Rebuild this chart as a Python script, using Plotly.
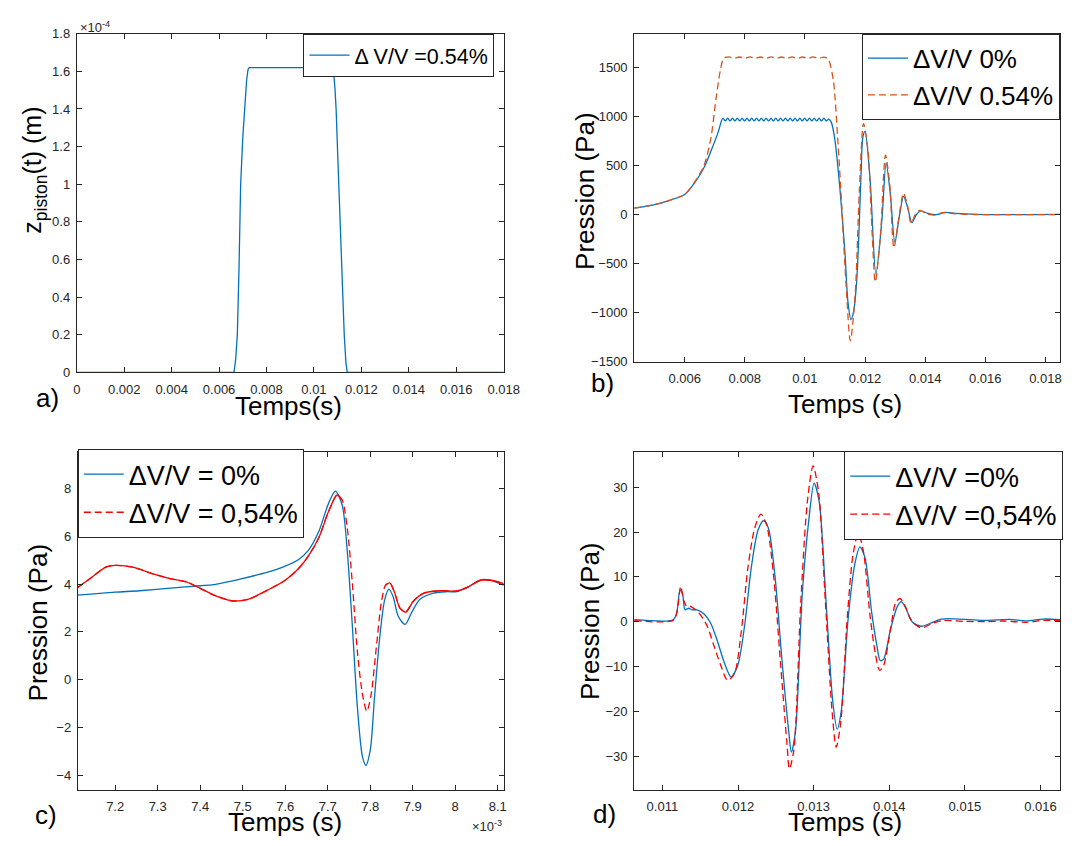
import plotly.graph_objects as go

# page body keeps an 8px margin: figure is sized and placed to compensate
OFF = 8
W, H = 1075, 838

# ---------------- data ----------------
# a) piston displacement (units of 1e-4 m)
t_a = [0.0, 0.00663, 0.00670, 0.00677, 0.00684, 0.00691, 0.00700, 0.00708, 0.00716, 0.00722, 0.00727,
       0.01077, 0.01084, 0.01089, 0.010935, 0.01099, 0.011049, 0.011163, 0.011277, 0.01135, 0.011405, 0.018]
z_a = [0.0, 0.0, 0.07, 0.2, 0.55, 1.0, 1.25, 1.42, 1.55, 1.61, 1.62,
       1.62, 1.58, 1.5, 1.4, 1.2, 1.0, 0.55, 0.2, 0.05, 0.0, 0.0]

# b) pressure, dV/V 0%
t_b0 = [0.00432, 0.0050, 0.0055, 0.0060, 0.0063, 0.00664, 0.00687, 0.0071, 0.00727,
        0.00735, 0.00743, 0.00751, 0.00759, 0.00767, 0.00775, 0.00783, 0.00791, 0.00799, 0.00807,
        0.00815, 0.00823, 0.00831, 0.00839, 0.00847, 0.00855, 0.00863, 0.00871, 0.00879, 0.00887,
        0.00895, 0.00903, 0.00911, 0.00919, 0.00927, 0.00935, 0.00943, 0.00951, 0.00959, 0.00967,
        0.00975, 0.00983, 0.00991, 0.00999, 0.01007, 0.01015, 0.01023, 0.01031, 0.01039, 0.01047,
        0.01055, 0.01063, 0.01071, 0.01079,
        0.01088, 0.01099, 0.01116, 0.01133, 0.01143, 0.01153, 0.01162, 0.01172, 0.01180, 0.01187,
        0.01193, 0.01200, 0.01217, 0.01236, 0.01256, 0.01270, 0.01284, 0.01299, 0.01314, 0.01328,
        0.01341, 0.01356, 0.01370, 0.01384, 0.01409, 0.01437, 0.01466, 0.01500, 0.01568, 0.01849]
p_b0 = [67, 103, 147, 207, 313, 480, 647, 830, 985,
        958, 985, 958, 985, 958, 985, 958, 985, 958, 985,
        958, 985, 958, 985, 958, 985, 958, 985, 958, 985,
        958, 985, 958, 985, 958, 985, 958, 985, 958, 985,
        958, 985, 958, 985, 958, 985, 958, 985, 958, 985,
        958, 985, 958, 975,
        940, 780, 280, -387, -887, -1070, -987, -687, -153, 447,
        797, 847, 347, -603, -53, 530, 213, -280, -20, 187,
        80, -80, -3, 40, 13, 0, 23, 13, 3, 3]

# b) pressure, dV/V 0.54%
t_b1 = [0.00432, 0.0050, 0.0055, 0.0060, 0.0063, 0.00664, 0.00687, 0.00704, 0.00719, 0.00730,
        0.00747, 0.00765, 0.00782, 0.00800, 0.00817, 0.00835, 0.00852, 0.00870, 0.00887, 0.00905,
        0.00922, 0.00940, 0.00957, 0.00975, 0.00992, 0.01010, 0.01027, 0.01045, 0.01062, 0.01077,
        0.01094, 0.01109, 0.01122, 0.01137, 0.01151, 0.01167, 0.01181, 0.01195, 0.01210, 0.01224,
        0.01234, 0.01251, 0.01268, 0.01282, 0.01296, 0.01313, 0.01328, 0.01341, 0.01353, 0.01367,
        0.01382, 0.01405, 0.01430, 0.01460, 0.01500, 0.01570, 0.01849]
p_b1 = [67, 103, 147, 207, 320, 500, 780, 1180, 1480, 1597,
        1612, 1596, 1610, 1595, 1611, 1596, 1610, 1595, 1611, 1596,
        1610, 1595, 1611, 1596, 1610, 1595, 1611, 1596, 1608, 1590,
        1380, 780, 113, -720, -1287, -820, 247, 930, 647, -220,
        -687, -220, 607, 313, -337, -20, 220, 97, -87, 0,
        45, 10, -5, 20, 10, 2, 2]

# c) zoom around 7.7e-3 s (time in 1e-3 s)
t_c0 = [7.112, 7.200, 7.257, 7.337, 7.400, 7.432, 7.496, 7.559, 7.600, 7.631, 7.655, 7.679, 7.702,
        7.718, 7.734, 7.746, 7.758, 7.770, 7.782, 7.790, 7.800, 7.810, 7.822, 7.834, 7.844, 7.854,
        7.866, 7.882, 7.897, 7.917, 7.949, 7.980, 8.004, 8.028, 8.060, 8.083, 8.114]
p_c0 = [3.54, 3.66, 3.72, 3.84, 3.93, 3.98, 4.22, 4.50, 4.75, 5.02, 5.42, 6.20, 7.38,
        7.89, 7.31, 5.39, 2.24, -1.19, -3.25, -3.59, -2.97, -0.78, 1.69, 3.34, 3.79, 3.47,
        2.65, 2.31, 2.79, 3.36, 3.62, 3.68, 3.68, 3.86, 4.18, 4.16, 3.95]
t_c1 = [7.112, 7.146, 7.178, 7.200, 7.241, 7.289, 7.329, 7.369, 7.400, 7.432, 7.464, 7.480, 7.512,
        7.559, 7.600, 7.631, 7.655, 7.679, 7.702, 7.722, 7.734, 7.746, 7.758, 7.770, 7.782, 7.792,
        7.802, 7.814, 7.826, 7.836, 7.846, 7.858, 7.870, 7.884, 7.901, 7.925, 7.965, 8.004, 8.028,
        8.060, 8.083, 8.114]
p_c1 = [3.86, 4.30, 4.71, 4.78, 4.71, 4.43, 4.23, 4.08, 3.82, 3.54, 3.34, 3.29, 3.36,
        3.75, 4.16, 4.64, 5.19, 5.94, 7.04, 7.73, 7.52, 6.35, 4.02, 1.14, -0.64, -1.33,
        -0.64, 1.28, 3.20, 3.95, 4.05, 3.61, 2.99, 2.83, 3.27, 3.61, 3.72, 3.71, 3.86,
        4.16, 4.16, 4.02]

# d) zoom on the oscillations
t_d0 = [0.010627, 0.011144, 0.011189, 0.011233, 0.011265, 0.011300, 0.011346, 0.011390, 0.011458,
        0.011548, 0.011637, 0.011727, 0.011817, 0.011907, 0.011996, 0.012086, 0.012176, 0.012266,
        0.012338, 0.012401, 0.012490, 0.012580, 0.012670, 0.012706, 0.012760, 0.012850, 0.012939,
        0.013006, 0.013074, 0.013163, 0.013253, 0.013311, 0.013365, 0.013455, 0.013545, 0.013612,
        0.013679, 0.013769, 0.013837, 0.013881, 0.013926, 0.014016, 0.014106, 0.014160, 0.014218,
        0.014308, 0.014420, 0.014555, 0.014690, 0.015004, 0.015273, 0.015587, 0.015812, 0.016036,
        0.016260]
p_d0 = [0.48, 0.48, 1.94, 7.04, 6.3, 2.67, 3.03, 2.67, 2.67,
        1.79, -0.25, -4.26, -9.0, -12.27, -9.7, -0.98, 12.14, 20.5,
        22.5, 20.9, 9.96, -8.26, -24.3, -29.0, -24.3, 6.3, 23.1,
        30.9, 26.7, 4.85, -17.7, -23.9, -19.9, 0.48, 12.9, 16.7,
        14.3, 1.94, -5.35, -8.6, -8.3, -1.7, 3.4, 4.5, 3.03,
        -0.1, -0.98, -0.25, 0.63, 0.55, 0.33, 0.55, 0.2, 0.63,
        0.48]
t_d1 = [0.010627, 0.011144, 0.011189, 0.011243, 0.011279, 0.011323, 0.011360, 0.011413, 0.011503,
        0.011593, 0.011682, 0.011772, 0.011862, 0.011952, 0.012041, 0.012131, 0.012221, 0.012302,
        0.012378, 0.012468, 0.012558, 0.012648, 0.012679, 0.012737, 0.012827, 0.012917, 0.012993,
        0.013065, 0.013154, 0.013244, 0.013298, 0.013356, 0.013446, 0.013522, 0.013590, 0.013657,
        0.013747, 0.013814, 0.013873, 0.013926, 0.014016, 0.014084, 0.014142, 0.014205, 0.014286,
        0.014420, 0.014555, 0.014690, 0.015004, 0.015273, 0.015497, 0.015812, 0.016036, 0.016260]
p_d1 = [0.26, 0.33, 1.94, 7.9, 4.85, 3.4, 3.5, 3.0, 1.57,
        -0.98, -5.35, -9.7, -13.0, -11.5, -2.43, 12.1, 20.9, 24.0,
        21.6, 10.7, -8.3, -27.2, -32.7, -28.7, 3.4, 26.7, 34.7,
        28.9, 4.85, -19.9, -27.9, -22.8, 1.2, 15.1, 19.6, 15.8,
        1.2, -6.8, -10.8, -9.7, -1.7, 4.2, 5.2, 3.76, 0.48,
        -1.34, -0.47, 0.26, 0.11, 0.04, 0.19, -0.1, 0.33, 0.26]

# tick labels
xa_ticks = [0, 0.002, 0.004, 0.006, 0.008, 0.01, 0.012, 0.014, 0.016, 0.018]
xa_text = ["0", "0.002", "0.004", "0.006", "0.008", "0.01", "0.012", "0.014", "0.016", "0.018"]
ya_ticks = [0, 0.2, 0.4, 0.6, 0.8, 1.0, 1.2, 1.4, 1.6, 1.8]
ya_text = ["0", "0.2", "0.4", "0.6", "0.8", "1", "1.2", "1.4", "1.6", "1.8"]
xb_ticks = [0.006, 0.008, 0.01, 0.012, 0.014, 0.016, 0.018]
xb_text = ["0.006", "0.008", "0.01", "0.012", "0.014", "0.016", "0.018"]
yb_ticks = [-1500, -1000, -500, 0, 500, 1000, 1500]
xc_ticks = [7.2, 7.3, 7.4, 7.5, 7.6, 7.7, 7.8, 7.9, 8.0, 8.1]
xc_text = ["7.2", "7.3", "7.4", "7.5", "7.6", "7.7", "7.8", "7.9", "8", "8.1"]
yc_ticks = [-4, -2, 0, 2, 4, 6, 8]
xd_ticks = [0.011, 0.012, 0.013, 0.014, 0.015, 0.016]
xd_text = ["0.011", "0.012", "0.013", "0.014", "0.015", "0.016"]
yd_ticks = [-30, -20, -10, 0, 10, 20, 30]

# ---------------- layout helpers ----------------
FONT = "Liberation Sans"
AX = "#262626"
BLUE = "#0072BD"
ORANGE = "#D95319"
RED = "#FF0000"


def fx(px):
    return (px - OFF) / W


def fy(py):
    return 1 - (py - OFF) / H


def axis(domain, rng, is_x, **kw):
    d = dict(domain=domain, range=rng, showline=True, linecolor=AX, linewidth=1,
             mirror="ticks", ticks="inside", ticklen=5, tickcolor=AX, tickwidth=1,
             showgrid=False, zeroline=False, ticklabelstandoff=5 if is_x else 3,
             tickfont=dict(family=FONT, size=13, color=AX))
    d.update(kw)
    return d


fig = go.Figure()

fig.add_trace(go.Scatter(x=t_a, y=z_a, mode="lines", name="\u0394 V/V =0.54%",
                         line=dict(color=BLUE, width=1.3), xaxis="x", yaxis="y", legend="legend"))

fig.add_trace(go.Scatter(x=t_b0, y=p_b0, mode="lines", name="\u0394V/V 0%",
                         line=dict(color=BLUE, width=1.3, shape="spline", smoothing=0.8),
                         xaxis="x2", yaxis="y2", legend="legend2"))
fig.add_trace(go.Scatter(x=t_b1, y=p_b1, mode="lines", name="\u0394V/V 0.54%",
                         line=dict(color=ORANGE, width=1.3, dash="7px,4px", shape="spline", smoothing=0.8),
                         xaxis="x2", yaxis="y2", legend="legend2"))

fig.add_trace(go.Scatter(x=t_c0, y=p_c0, mode="lines", name="\u0394V/V = 0%",
                         line=dict(color=BLUE, width=1.3, shape="spline", smoothing=0.8),
                         xaxis="x3", yaxis="y3", legend="legend3"))
fig.add_trace(go.Scatter(x=t_c1, y=p_c1, mode="lines", name="\u0394V/V = 0,54%",
                         line=dict(color=RED, width=1.3, dash="7px,4px", shape="spline", smoothing=0.8),
                         xaxis="x3", yaxis="y3", legend="legend3"))
# the dashed curve looks solid where it varies slowly (dense data in the original)
n_l, n_r = 21, 29
fig.add_trace(go.Scatter(x=t_c1[:n_l], y=p_c1[:n_l], mode="lines", showlegend=False, hoverinfo="skip",
                         line=dict(color=RED, width=1.3, shape="spline", smoothing=0.8),
                         xaxis="x3", yaxis="y3"))
fig.add_trace(go.Scatter(x=t_c1[n_r:], y=p_c1[n_r:], mode="lines", showlegend=False, hoverinfo="skip",
                         line=dict(color=RED, width=1.3, shape="spline", smoothing=0.8),
                         xaxis="x3", yaxis="y3"))

fig.add_trace(go.Scatter(x=t_d0, y=p_d0, mode="lines", name="\u0394V/V =0%",
                         line=dict(color=BLUE, width=1.3, shape="spline", smoothing=0.8),
                         xaxis="x4", yaxis="y4", legend="legend4"))
fig.add_trace(go.Scatter(x=t_d1, y=p_d1, mode="lines", name="\u0394V/V =0,54%",
                         line=dict(color=RED, width=1.3, dash="7px,4px", shape="spline", smoothing=0.8),
                         xaxis="x4", yaxis="y4", legend="legend4"))

# panel pixel boxes in the reference picture (left, right, top, bottom)
A = (74, 509, 27, 372)
B = (642, 1076, 27, 361)
C = (75, 509, 453, 797)
D = (642, 1076, 453, 797)


def dom_x(b):
    return [fx(b[0]), min(fx(b[1]), 1.0)]


def dom_y(b):
    return [fy(b[3]), fy(b[2])]


def legend(x, y, size):
    return dict(x=fx(x), y=fy(y), xanchor="left", yanchor="top", bgcolor="white",
                bordercolor=AX, borderwidth=1, itemwidth=40, tracegroupgap=0,
                font=dict(family=FONT, size=size, color="black"))


fig.update_layout(
    width=W, height=H, margin=dict(l=0, r=0, t=0, b=0),
    paper_bgcolor="white", plot_bgcolor="white", showlegend=True,
    xaxis=axis(dom_x(A), [0, 0.018], True, tickvals=xa_ticks, ticktext=xa_text, anchor="y"),
    yaxis=axis(dom_y(A), [0, 1.8], False, tickvals=ya_ticks, ticktext=ya_text, anchor="x"),
    xaxis2=axis(dom_x(B), [0.00432, 0.01849], True, tickvals=xb_ticks, ticktext=xb_text, anchor="y2"),
    yaxis2=axis(dom_y(B), [-1500, 1848], False, tickvals=yb_ticks, anchor="x2"),
    xaxis3=axis(dom_x(C), [7.112, 8.114], True, tickvals=xc_ticks, ticktext=xc_text, anchor="y3"),
    yaxis3=axis(dom_y(C), [-4.62, 9.53], False, tickvals=yc_ticks, anchor="x3"),
    xaxis4=axis(dom_x(D), [0.010627, 0.01626], True, tickvals=xd_ticks, ticktext=xd_text, anchor="y4"),
    yaxis4=axis(dom_y(D), [-37.4, 37.8], False, tickvals=yd_ticks, anchor="x4"),
    legend=legend(305, 27, 21.5),
    legend2=legend(874, 27, 26),
    legend3=legend(75, 450, 27),
    legend4=legend(856, 452, 27),
)


def ann(text, x, y, size, angle=0, color="black", xanchor="center", yanchor="middle"):
    fig.add_annotation(text=text, x=fx(x), y=fy(y), xref="paper", yref="paper",
                       showarrow=False, textangle=angle, xanchor=xanchor, yanchor=yanchor,
                       font=dict(family=FONT, size=size, color=color))


# axis titles
ann("Temps(s)", 290, 406, 26)
ann("Temps (s)", 857, 404, 26)
ann("Temps (s)", 286, 830, 26)
ann("Temps (s)", 857, 830, 26)
ann("z<sub>piston</sub>(t) (m)", 31, 166, 25, angle=-90)
ann("Pression (Pa)", 592, 187, 26, angle=-90)
ann("Pression (Pa)", 34, 627, 26, angle=-90)
ann("Pression (Pa)", 597, 625, 26, angle=-90)
# panel labels
ann("a)", 44, 398, 26)
ann("b)", 610, 383, 26)
ann("c)", 43, 823, 26)
ann("d)", 612, 822, 26)
# exponents
ann("\u00d710<sup>-4</sup>", 75, 20, 13, color=AX, xanchor="left")
ann("\u00d710<sup>-3</sup>", 509, 834, 13, color=AX, xanchor="right")

fig.write_html("out.html")
